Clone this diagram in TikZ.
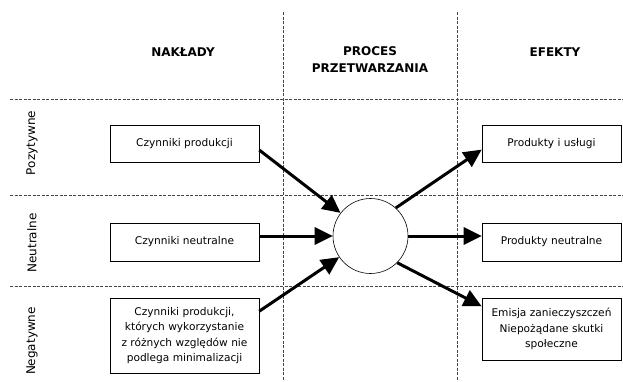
\documentclass[tikz,border=0pt]{standalone}
\usepackage{fontspec}
\setmainfont{DejaVu Sans}
\usetikzlibrary{arrows.meta}

\tikzset{
  grid line/.style={gray!55!black, line width=0.5pt, dash pattern=on 3pt off 1.5pt},
  factor/.style={draw, line width=0.6pt, minimum width=149pt, minimum height=37pt,
    inner sep=2pt, align=center, font=\fontsize{10.6}{15.5}\selectfont},
  effect/.style={factor, minimum width=139pt},
  flow/.style={line width=3pt, -{Triangle[length=18pt,width=17pt]}},
  head/.style={font=\bfseries\fontsize{12}{17}\selectfont, align=center},
  row/.style={rotate=90, font=\fontsize{12}{14}\selectfont},
}

\begin{document}
\begin{tikzpicture}[x=1pt,y=-1pt]
    \pgfmathsetmacro{\colA}{283}
    \pgfmathsetmacro{\colB}{457}
    \useasboundingbox (0,0) rectangle (623,381);
    % grid
    \draw[grid line] (\colA,12) -- (\colA,381);
    \draw[grid line] (\colB,12) -- (\colB,381);
    \foreach \rowy in {99,195,286}
        \draw[grid line] (10,\rowy) -- (623,\rowy);
    % headings
    \node[head] (naklady) at (183,52) {NAKŁADY};
    \node[head] (proces) at (370,60) {PROCES\\PRZETWARZANIA};
    \node[head] (efekty) at (555,52) {EFEKTY};
    \node[row] (pozytywne) at (32,143) {Pozytywne};
    \node[row] (neutralne) at (32,243) {Neutralne};
    \node[row] (negatywne) at (32,341) {Negatywne};
    % inputs
    \node[factor] (in1) at (184.5,143.5) {Czynniki produkcji};
    \node[factor, minimum height=38pt] (in2) at (184.5,242) {Czynniki neutralne};
    \node[factor, minimum height=75pt] (in3) at (184.5,335.5)
        {Czynniki produkcji,\\których wykorzystanie\\z różnych względów nie\\podlega minimalizacji};
    % process
    \node[draw, circle, line width=0.6pt, minimum size=75pt] (proc) at (370.5,236) {};
    % outputs
    \node[effect] (out1) at (551.5,143.5) {Produkty i usługi};
    \node[effect, minimum height=38pt] (out2) at (551.5,242) {Produkty neutralne};
    \node[effect, minimum height=62pt] (out3) at (551.5,329)
        {Emisja zanieczyszczeń\\Niepożądane skutki\\społeczne};
    % flows
    \draw[flow] (in1.-5) -- (proc);
    \draw[flow] (in2.east |- proc.west) -- (proc.west);
    \draw[flow] (in3.18) -- (proc);
    \draw[flow] (proc.48) -- (out1.185);
    \draw[flow] (proc.east) -- (out2.west |- proc.east);
    \draw[flow] (proc.-45) -- (out3.162);
\end{tikzpicture}
\end{document}
